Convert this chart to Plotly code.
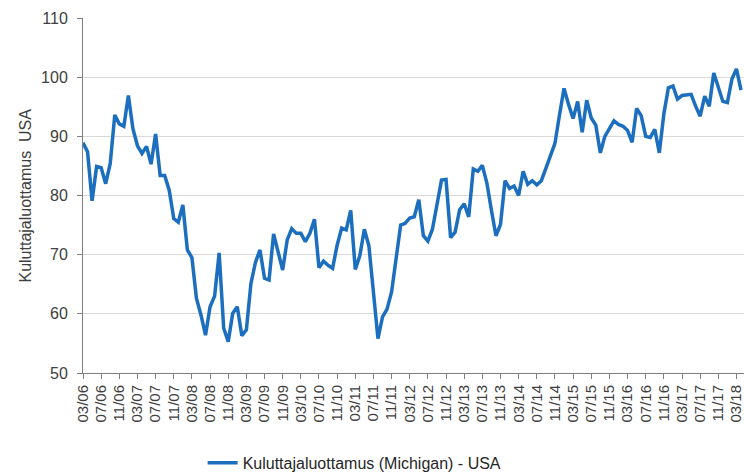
import plotly.graph_objects as go

months = []
for y in range(2006, 2019):
    for m in range(1, 13):
        if (y == 2006 and m < 3) or (y == 2018 and m > 4):
            continue
        months.append(f"{m:02d}/{str(y)[2:]}")

values = [
    88.9, 87.4, 79.1, 84.9, 84.7, 82.0, 85.4, 93.6, 92.1, 91.7,          # 2006 Mar-Dec
    96.9, 91.3, 88.4, 87.1, 88.3, 85.3, 90.4, 83.4, 83.4, 80.9, 76.1, 75.5,  # 2007
    78.4, 70.8, 69.5, 62.6, 59.8, 56.4, 61.2, 63.0, 70.3, 57.6, 55.3, 60.1,  # 2008
    61.2, 56.3, 57.3, 65.1, 68.7, 70.8, 66.0, 65.7, 73.5, 70.6, 67.4, 72.5,  # 2009
    74.4, 73.6, 73.6, 72.2, 73.6, 76.0, 67.8, 68.9, 68.2, 67.7, 71.6, 74.5,  # 2010
    74.2, 77.5, 67.5, 69.8, 74.3, 71.5, 63.7, 55.8, 59.5, 60.8, 63.7, 69.9,  # 2011
    75.0, 75.3, 76.2, 76.4, 79.3, 73.2, 72.3, 74.3, 78.3, 82.6, 82.7, 72.9,  # 2012
    73.8, 77.6, 78.6, 76.4, 84.5, 84.1, 85.1, 82.1, 77.5, 73.2, 75.1, 82.5,  # 2013
    81.2, 81.6, 80.0, 84.1, 81.9, 82.5, 81.8, 82.5, 84.6, 86.9, 88.8, 93.6,  # 2014
    98.1, 95.4, 93.0, 95.9, 90.7, 96.1, 93.1, 91.9, 87.2, 90.0, 91.3, 92.6,  # 2015
    92.0, 91.7, 91.0, 89.0, 94.7, 93.5, 90.0, 89.8, 91.2, 87.2, 93.8, 98.2,  # 2016
    98.5, 96.3, 96.9, 97.0, 97.1, 95.1, 93.4, 96.8, 95.1, 100.7, 98.5, 95.9,  # 2017
    95.7, 99.7, 101.4, 97.8,                                                # 2018 Jan-Apr
]

series_name = "Kuluttajaluottamus (Michigan) - USA"
y_title = "Kuluttajaluottamus  USA"

idx = list(range(len(values)))
tick_idx = idx[::4]
tick_text = [months[i] for i in tick_idx]

FONT = "Liberation Sans, Arial, sans-serif"

fig = go.Figure()
fig.add_trace(go.Scatter(
    x=idx, y=values, mode="lines", name=series_name,
    line=dict(color="#1C6EBE", width=3.5),
))

fig.update_layout(
    width=744, height=474,
    margin=dict(l=83, r=0, t=18, b=101, autoexpand=False),
    plot_bgcolor="white", paper_bgcolor="white",
    font=dict(family=FONT, size=16, color="#404040"),
    showlegend=True,
    legend=dict(orientation="h", x=0.181, xanchor="left", y=-0.205, yanchor="top",
                font=dict(size=16, color="#262626"), bgcolor="rgba(0,0,0,0)"),
)
fig.add_annotation(
    text=y_title, textangle=-90, xref="paper", yref="paper",
    x=(25 - 83) / 661, y=0.5, xanchor="center", yanchor="middle",
    showarrow=False, font=dict(size=16, color="#404040"),
)
fig.update_xaxes(
    range=[0, 145.66], tickmode="array", tickvals=tick_idx, ticktext=tick_text,
    tickangle=-90, ticks="outside", ticklen=5, tickcolor="#7f7f7f",
    showline=True, linecolor="#7f7f7f", linewidth=1, showgrid=False, zeroline=False,
    tickfont=dict(size=15, color="#404040"), automargin=False,
    ticklabeloverflow="allow",
)
fig.update_yaxes(
    range=[50, 110], dtick=10, ticks="outside", ticklen=5, tickcolor="#7f7f7f",
    showline=True, linecolor="#7f7f7f", linewidth=1,
    showgrid=True, gridcolor="#D9D9D9", gridwidth=1, zeroline=False,
    tickfont=dict(size=16, color="#404040"), automargin=False,
    ticklabelstandoff=6,
)

fig.write_html(
    "out.html",
    config={"displayModeBar": False},
    post_script="document.body.style.margin='0';document.body.style.overflow='hidden';",
)
